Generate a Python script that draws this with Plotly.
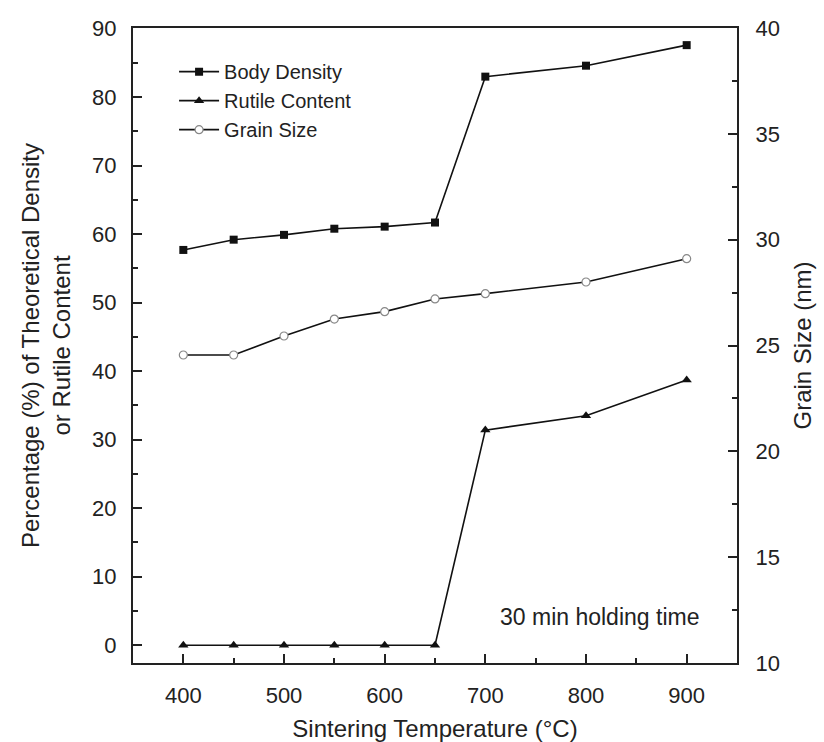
import plotly.graph_objects as go

temperature = [400, 450, 500, 550, 600, 650, 700, 800, 900]
body_density = [57.7, 59.2, 59.9, 60.8, 61.1, 61.7, 83.0, 84.6, 87.6]
rutile_content = [0, 0, 0, 0, 0, 0, 31.4, 33.5, 38.7]
grain_size = [24.55, 24.55, 25.45, 26.25, 26.6, 27.2, 27.45, 28.0, 29.1]

FONT = "Liberation Sans, Arial, sans-serif"
TXT = "#222222"

fig = go.Figure()
fig.add_trace(go.Scatter(
    x=temperature, y=body_density, name="Body Density", mode="lines+markers",
    line=dict(color="#111111", width=1.6),
    marker=dict(symbol="square", size=8, color="#111111"),
))
fig.add_trace(go.Scatter(
    x=temperature, y=rutile_content, name="Rutile Content", mode="lines+markers",
    line=dict(color="#111111", width=1.6),
    marker=dict(symbol="triangle-up", size=9, color="#111111"),
))
fig.add_trace(go.Scatter(
    x=temperature, y=grain_size, name="Grain Size", mode="lines+markers",
    yaxis="y2",
    line=dict(color="#111111", width=1.6),
    marker=dict(symbol="circle", size=8, color="white",
                line=dict(color="#888888", width=1.2)),
))

axis_common = dict(
    showline=True, linecolor="#222222", linewidth=2,
    ticks="inside", tickcolor="#222222", tickwidth=2,
    showgrid=False, zeroline=False, automargin=False,
    tickfont=dict(family=FONT, size=22, color=TXT),
)

fig.update_layout(
    width=824, height=742,
    margin=dict(l=133, r=87, t=28, b=79),
    paper_bgcolor="white", plot_bgcolor="white",
    font=dict(family=FONT, color=TXT),
    showlegend=True,
    legend=dict(
        x=0.068, y=0.962, xanchor="left", yanchor="top",
        bgcolor="rgba(0,0,0,0)", font=dict(family=FONT, size=20, color=TXT),
        tracegroupgap=0, itemwidth=40,
    ),
    xaxis=dict(
        **axis_common,
        range=[350, 950], tickvals=[400, 500, 600, 700, 800, 900],
        ticklen=9, mirror=True, ticklabelstandoff=12,
        minor=dict(dtick=50, tick0=350, ticks="inside", ticklen=5,
                   tickcolor="#222222", tickwidth=2),
        title=dict(text="Sintering Temperature (°C)",
                   font=dict(family=FONT, size=24, color=TXT)),
    ),
    yaxis=dict(
        **axis_common,
        range=[-2.6, 90.1], tickvals=[0, 10, 20, 30, 40, 50, 60, 70, 80, 90],
        ticklen=9, ticklabelstandoff=10,
        minor=dict(dtick=5, tick0=0, ticks="inside", ticklen=5,
                   tickcolor="#222222", tickwidth=2),
        title=dict(text="Percentage (%) of Theoretical Density<br>or Rutile Content",
                   font=dict(family=FONT, size=24, color=TXT)),
    ),
    yaxis2=dict(
        **axis_common,
        overlaying="y", side="right",
        range=[10, 40], tickvals=[10, 15, 20, 25, 30, 35, 40],
        ticklen=9, ticklabelstandoff=12,
        minor=dict(dtick=2.5, tick0=10, ticks="inside", ticklen=5,
                   tickcolor="#222222", tickwidth=2),
        title=dict(text="Grain Size (nm)",
                   font=dict(family=FONT, size=24, color=TXT)),
    ),
    annotations=[dict(
        text="30 min holding time", xref="paper", yref="paper",
        x=0.773, y=0.072, xanchor="center", yanchor="middle",
        showarrow=False, font=dict(family=FONT, size=23, color=TXT),
    )],
)

fig.write_html("out.html")
